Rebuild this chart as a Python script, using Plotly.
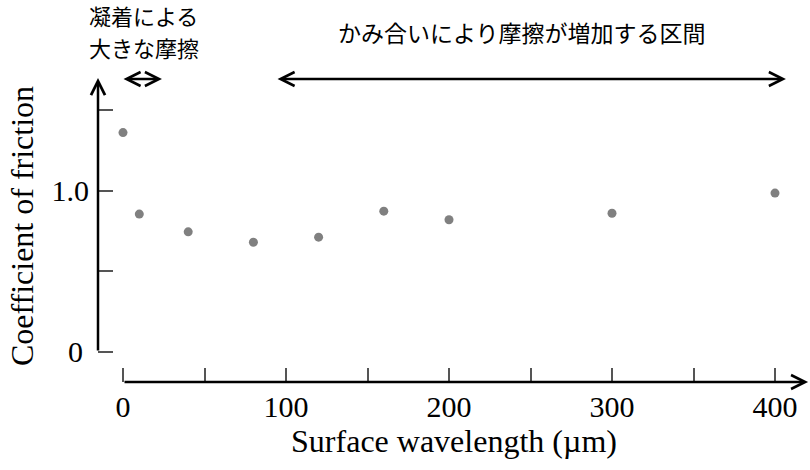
import plotly.graph_objects as go

# Measured friction coefficients versus surface wavelength
wavelength_um = [0, 10, 40, 80, 120, 160, 200, 300, 400]
friction_coef = [1.36, 0.855, 0.745, 0.68, 0.712, 0.873, 0.82, 0.86, 0.985]

x_tickvals = [0, 50, 100, 150, 200, 250, 300, 350, 400]
x_ticktext = ["0", "", "100", "", "200", "", "300", "", "400"]
y_tickvals = [0, 0.5, 1.0, 1.5]
y_ticktext = ["0\u2009", "", "1.0", ""]

SERIF = "Liberation Serif, Times New Roman, serif"
JP = "Noto Sans CJK JP, sans-serif"

fig = go.Figure()
fig.add_trace(go.Scatter(
    x=wavelength_um, y=friction_coef, mode="markers",
    marker=dict(color="#808080", size=9, line=dict(width=0)),
    showlegend=False, hoverinfo="x+y",
))

X_MIN, X_MAX = -15.34, 421.47
Y_MIN, Y_MAX = -0.186, 1.748

fig.update_layout(
    width=810, height=470, autosize=False,
    margin=dict(l=98, r=0, t=70, b=88, pad=0),
    paper_bgcolor="white", plot_bgcolor="white",
    xaxis=dict(
        range=[X_MIN, X_MAX], tickvals=x_tickvals, ticktext=x_ticktext,
        ticks="inside", ticklen=14, tickwidth=1.5, tickcolor="#555",
        showline=False, showgrid=False, zeroline=False, automargin=False,
        tickfont=dict(family=SERIF, size=30, color="black"),
        ticklabelstandoff=4,
        title=dict(text="Surface wavelength (µm)", standoff=6,
                   font=dict(family=SERIF, size=32, color="black")),
    ),
    yaxis=dict(
        range=[Y_MIN, Y_MAX], tickvals=y_tickvals, ticktext=y_ticktext,
        ticks="inside", ticklen=15, tickwidth=1.5, tickcolor="#555",
        showline=False, showgrid=False, zeroline=False, automargin=False,
        tickfont=dict(family=SERIF, size=30, color="black"),
        ticklabelstandoff=8,
        title=dict(text="Coefficient of friction", standoff=8,
                   font=dict(family=SERIF, size=32, color="black")),
    ),
)

arrow = dict(showarrow=True, text="", arrowcolor="black", arrowwidth=2.5,
             arrowhead=5, arrowsize=1.1, standoff=0, startstandoff=0)

# y axis line with arrow at the top
fig.add_annotation(xref="x", yref="y", x=X_MIN, y=1.698,
                   axref="x", ayref="y", ax=X_MIN, ay=0, **arrow)
# x axis line with arrow at the right
fig.add_annotation(xref="x", yref="paper", x=420.3, y=0,
                   axref="x", ayref="pixel", ax=0, ay=0, **arrow)

# range markers (double-headed arrows)
both = dict(arrow, arrowside="end+start", startarrowhead=5, startarrowsize=1.1)
fig.add_annotation(xref="x", yref="y", x=23.9, y=1.692,
                   axref="x", ayref="pixel", ax=-0.6, ay=0, **both)
fig.add_annotation(xref="x", yref="y", x=406.7, y=1.692,
                   axref="x", ayref="pixel", ax=93.9, ay=0, **both)

# range labels
jp_font = dict(family=JP, size=22, color="black")
fig.add_annotation(xref="x", yref="paper", x=12.6, y=1.1763,
                   text="凝着による", showarrow=False, font=jp_font,
                   xanchor="center", yanchor="middle")
fig.add_annotation(xref="x", yref="paper", x=12.6, y=1.0737,
                   text="大きな摩擦", showarrow=False, font=jp_font,
                   xanchor="center", yanchor="middle")
fig.add_annotation(xref="x", yref="paper", x=244.5, y=1.122,
                   text="かみ合いにより摩擦が増加する区間", showarrow=False,
                   font=dict(jp_font, size=23), xanchor="center",
                   yanchor="middle")

fig.write_html("out.html")
